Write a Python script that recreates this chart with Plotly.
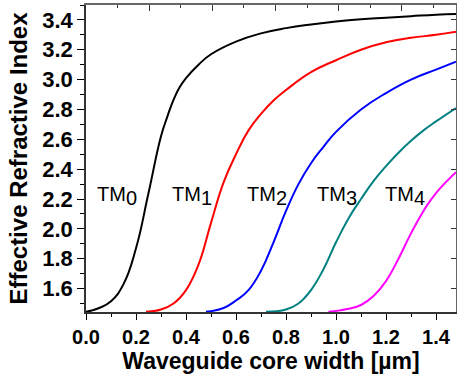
import plotly.graph_objects as go

# Effective index of the TM modes versus waveguide core width
tm0_w = [0.00, 0.05, 0.10, 0.15, 0.20, 0.25, 0.30, 0.325, 0.35, 0.375, 0.40, 0.45, 0.50, 0.60, 0.70, 0.80, 0.90, 1.00, 1.10, 1.20, 1.30, 1.40, 1.48]
tm0_n = [1.444, 1.468, 1.515, 1.63, 1.87, 2.24, 2.62, 2.75, 2.865, 2.95, 3.01, 3.10, 3.17, 3.255, 3.31, 3.345, 3.37, 3.39, 3.405, 3.415, 3.425, 3.435, 3.44]

tm1_w = [0.24, 0.30, 0.35, 0.40, 0.45, 0.50, 0.55, 0.60, 0.65, 0.70, 0.75, 0.80, 0.90, 1.00, 1.10, 1.20, 1.30, 1.40, 1.48]
tm1_n = [1.444, 1.46, 1.50, 1.59, 1.76, 2.04, 2.31, 2.50, 2.66, 2.77, 2.86, 2.93, 3.05, 3.13, 3.20, 3.25, 3.28, 3.30, 3.32]

tm2_w = [0.48, 0.55, 0.60, 0.65, 0.70, 0.75, 0.80, 0.85, 0.90, 0.95, 1.00, 1.10, 1.20, 1.30, 1.40, 1.48]
tm2_n = [1.444, 1.47, 1.52, 1.59, 1.72, 1.91, 2.12, 2.30, 2.44, 2.55, 2.65, 2.80, 2.91, 3.00, 3.067, 3.12]

tm3_w = [0.72, 0.80, 0.85, 0.90, 0.95, 1.00, 1.05, 1.10, 1.15, 1.20, 1.25, 1.30, 1.35, 1.40, 1.48]
tm3_n = [1.444, 1.46, 1.50, 1.59, 1.73, 1.91, 2.07, 2.20, 2.32, 2.42, 2.51, 2.59, 2.66, 2.72, 2.81]

tm4_w = [0.97, 1.05, 1.10, 1.15, 1.20, 1.25, 1.30, 1.35, 1.40, 1.48]
tm4_n = [1.444, 1.465, 1.49, 1.55, 1.65, 1.80, 1.97, 2.12, 2.24, 2.38]

mode_names = ["0", "1", "2", "3", "4"]
mode_colors = ["#000000", "#ff0000", "#0000ff", "#008080", "#ff00ff"]
label_w = [0.036, 0.336, 0.636, 0.916, 1.188]
label_n = 2.22

x_ticks = [0.0, 0.2, 0.4, 0.6, 0.8, 1.0, 1.2, 1.4]
y_ticks = [1.6, 1.8, 2.0, 2.2, 2.4, 2.6, 2.8, 3.0, 3.2, 3.4]

widths = [tm0_w, tm1_w, tm2_w, tm3_w, tm4_w]
indices = [tm0_n, tm1_n, tm2_n, tm3_n, tm4_n]

FONT = "Liberation Sans"

fig = go.Figure()
for w, n, c in zip(widths, indices, mode_colors):
    fig.add_trace(go.Scatter(x=w, y=n, mode="lines",
                             line=dict(color=c, width=2, shape="spline", smoothing=1.3),
                             hoverinfo="skip", showlegend=False))

# frame axes (top / right) carrying only tick marks
fig.add_trace(go.Scatter(x=[None], y=[None], xaxis="x2", yaxis="y2",
                         showlegend=False, hoverinfo="skip"))

for name, xw in zip(mode_names, label_w):
    fig.add_annotation(x=xw, y=label_n, xref="x", yref="y",
                       text=f"TM<sub><span style='font-size:20px'>{name}</span></sub>",
                       showarrow=False, xanchor="left", yanchor="middle",
                       font=dict(family=FONT, size=20, color="black"))

fig.update_layout(
    width=457, height=376,
    margin=dict(l=86, r=1, t=5, b=64),
    paper_bgcolor="white", plot_bgcolor="white",
    xaxis=dict(range=[0, 1.48], tickvals=x_ticks, ticktext=[f"<b>{v:.1f}</b>" for v in x_ticks],
               ticks="outside", ticklen=6, tickwidth=1.2, tickcolor="black",
               minor=dict(ticks="outside", ticklen=3, dtick=0.1, tick0=0, tickcolor="black"),
               showline=True, linecolor="#333", linewidth=1.5, showgrid=False, zeroline=False,
               tickfont=dict(family=FONT, size=20, color="black"),
               title=dict(text="<b>Waveguide core width [µm]</b>", standoff=6,
                          font=dict(family=FONT, size=23, color="black"))),
    yaxis=dict(range=[1.443, 3.50], tickvals=y_ticks, ticktext=[f"<b>{v:.1f}</b>" for v in y_ticks],
               ticks="outside", ticklen=7, tickwidth=1.2, tickcolor="black",
               minor=dict(ticks="outside", ticklen=4, dtick=0.1, tick0=0, tickcolor="black"),
               showline=True, linecolor="#333", linewidth=1.5, showgrid=False, zeroline=False,
               tickfont=dict(family=FONT, size=22, color="black"),
               title=dict(text="<b>Effective Refractive Index</b>", standoff=8,
                          font=dict(family=FONT, size=24, color="black"))),
    xaxis2=dict(overlaying="x", side="top", anchor="y2", range=[0, 5.856], dtick=1, tick0=0,
                ticks="inside", ticklen=6, tickwidth=1.2, tickcolor="#333",
                minor=dict(ticks="inside", ticklen=3, dtick=0.5, tickcolor="#333"),
                showticklabels=False, showline=True, linecolor="#666", linewidth=1.5,
                showgrid=False, zeroline=False),
    yaxis2=dict(overlaying="y", side="right", anchor="x2", range=[1.443, 3.50], dtick=0.2, tick0=0,
                ticks="inside", ticklen=5, tickwidth=1.2, tickcolor="#333",
                showticklabels=False, showline=True, linecolor="#666", linewidth=1.5,
                showgrid=False, zeroline=False),
)

fig.write_html("out.html")
